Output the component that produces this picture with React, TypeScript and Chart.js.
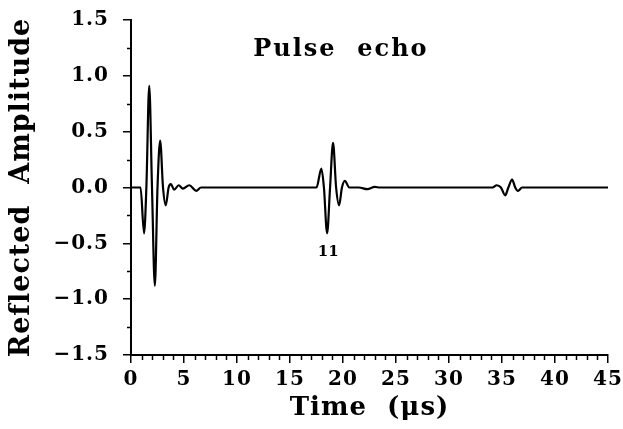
import React, { useEffect, useRef } from 'react';
import { Chart, registerables } from 'chart.js';

Chart.register(...registerables);

// Waveform (time in µs, reflected amplitude)
const timeUs = [
  0, 0.9, 1.23, 1.45, 1.72, 1.98, 2.25, 2.5, 2.75, 3.02, 3.28, 3.55, 3.76, 4.07, 4.5, 4.9, 5.5, 6.15, 6.6,
  17.5, 17.96, 18.2, 18.5, 18.78, 19.06, 19.35, 19.63, 19.9, 20.17, 20.6, 21.5, 22.3, 23.0, 23.5,
  34.1, 34.5, 34.9, 35.3, 35.6, 35.95, 36.25, 36.5, 36.9, 45,
];
const amplitude = [
  0, 0, -0.41, 0, 0.91, 0, -0.88, 0, 0.42, 0, -0.16, 0, 0.03, -0.02, 0.02, -0.01, 0.02, -0.03, 0,
  0, 0.17, 0, -0.41, 0, 0.4, 0, -0.16, 0, 0.06, 0, 0, -0.015, 0.005, 0,
  0, 0.02, 0, -0.07, 0, 0.07, 0, -0.03, 0, 0,
];

const xTickLabels = ['0', '5', '10', '15', '20', '25', '30', '35', '40', '45'];
const yTickLabels = ['\u22121.5', '\u22121.0', '\u22120.5', '0.0', '0.5', '1.0', '1.5'];
const xTitle = 'Time  (\u03bcs)';
const yTitle = 'Reflected  Amplitude';
const plotTitle = 'Pulse  echo';
const plotTitleAt = { x: 19.8, y: 1.23 };
const echoLabel = '11';
const echoLabelAt = { x: 18.6, y: -0.58 };

const X_MIN = 0, X_MAX = 45, X_MAJOR = 5, X_MINOR = 1;
const Y_MIN = -1.5, Y_MAX = 1.5, Y_MAJOR = 0.5, Y_MINOR = 0.25;

const FONT = '"DejaVu Serif", "Liberation Serif", serif';

const decorPlugin = {
  id: 'decor',
  beforeDraw(chart: any) {
    chart.ctx.letterSpacing = '1px';
  },
  afterDraw(chart: any) {
    const { ctx } = chart;
    const x = chart.scales.x;
    const y = chart.scales.y;
    ctx.save();
    ctx.strokeStyle = '#000';
    ctx.lineWidth = 1.5;
    ctx.beginPath();
    for (let v = X_MIN; v <= X_MAX + 1e-9; v += X_MINOR) {
      if (Math.abs(v / X_MAJOR - Math.round(v / X_MAJOR)) < 1e-6) continue;
      const px = Math.round(x.getPixelForValue(v)) + 0.5;
      ctx.moveTo(px, y.bottom);
      ctx.lineTo(px, y.bottom + 5);
    }
    for (let v = Y_MIN; v <= Y_MAX + 1e-9; v += Y_MINOR) {
      if (Math.abs(v / Y_MAJOR - Math.round(v / Y_MAJOR)) < 1e-6) continue;
      const py = Math.round(y.getPixelForValue(v)) + 0.5;
      ctx.moveTo(x.left, py);
      ctx.lineTo(x.left - 4, py);
    }
    ctx.stroke();

    ctx.fillStyle = '#000';
    ctx.textAlign = 'center';
    ctx.textBaseline = 'middle';
    ctx.letterSpacing = '2px';
    ctx.font = `bold 24px ${FONT}`;
    ctx.fillText(plotTitle, x.getPixelForValue(plotTitleAt.x), y.getPixelForValue(plotTitleAt.y));
    ctx.letterSpacing = '0px';
    ctx.font = `bold 15px ${FONT}`;
    ctx.fillText(echoLabel, x.getPixelForValue(echoLabelAt.x), y.getPixelForValue(echoLabelAt.y));
    ctx.restore();
  },
};

export default function App() {
  const canvasRef = useRef<HTMLCanvasElement | null>(null);

  useEffect(() => {
    if (!canvasRef.current) return;
    const chart = new Chart(canvasRef.current, {
      type: 'line',
      data: {
        datasets: [
          {
            data: timeUs.map((t, i) => ({ x: t, y: amplitude[i] })),
            borderColor: '#000',
            borderWidth: 2.2,
            pointRadius: 0,
            fill: false,
            cubicInterpolationMode: 'monotone',
          },
        ],
      },
      options: {
        animation: false,
        responsive: true,
        maintainAspectRatio: false,
        layout: { padding: { left: 0, right: 15, top: 20, bottom: 0 } },
        plugins: { legend: { display: false }, tooltip: { enabled: false } },
        scales: {
          x: {
            type: 'linear',
            min: X_MIN,
            max: X_MAX,
            afterFit: (s: any) => {
              s.height = 74;
              s.paddingLeft = 0;
              s.paddingRight = 0;
            },
            grid: { display: true, drawOnChartArea: false, drawTicks: true, tickLength: 8, color: '#000', lineWidth: 1.5 },
            border: { display: true, color: '#000', width: 2 },
            ticks: {
              stepSize: X_MAJOR,
              autoSkip: false,
              maxRotation: 0,
              padding: 5,
              color: '#000',
              font: { family: FONT, size: 20, weight: 'bold' },
              callback: (_v: any, i: number) => xTickLabels[i],
            },
            title: {
              display: true,
              text: xTitle,
              color: '#000',
              font: { family: FONT, size: 26, weight: 'bold', lineHeight: 1.2 },
              padding: { top: 0, bottom: 5 },
            },
          },
          y: {
            type: 'linear',
            min: Y_MIN,
            max: Y_MAX,
            afterFit: (s: any) => {
              s.width = 131;
              s.paddingTop = 0;
              s.paddingBottom = 0;
            },
            grid: { display: true, drawOnChartArea: false, drawTicks: true, tickLength: 8, color: '#000', lineWidth: 1.5 },
            border: { display: true, color: '#000', width: 2 },
            ticks: {
              stepSize: Y_MAJOR,
              autoSkip: false,
              padding: 14,
              color: '#000',
              font: { family: FONT, size: 20, weight: 'bold' },
              callback: (_v: any, i: number) => yTickLabels[i],
            },
            title: {
              display: true,
              text: yTitle,
              color: '#000',
              font: { family: FONT, size: 27, weight: 'bold', lineHeight: 1.2 },
              padding: { top: 6, bottom: 0 },
            },
          },
        },
      },
      plugins: [decorPlugin],
    } as any);
    return () => chart.destroy();
  }, []);

  return (
    <div style={{ position: 'fixed', left: 0, top: 0, width: 623, height: 429, background: '#fff' }}>
      <canvas ref={canvasRef} />
    </div>
  );
}
